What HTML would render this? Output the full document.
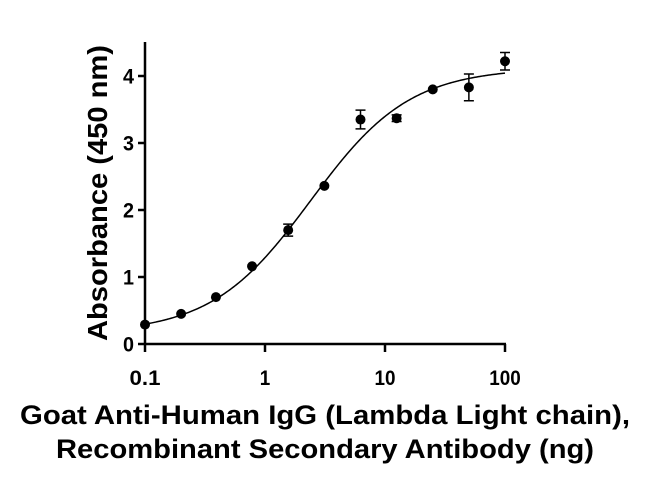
<!DOCTYPE html>
<html><head><style>
html,body{margin:0;padding:0;background:#fff;}
svg text{font-family:"Liberation Sans",sans-serif;font-weight:bold;fill:#000;}
</style></head><body>
<svg id="chart" width="650" height="488" viewBox="0 0 650 488" xmlns="http://www.w3.org/2000/svg"></svg>
<script>
const xValues=[0.1,0.2,0.39,0.78,1.56,3.125,6.25,12.5,25,50,100];
const yValues=[0.29,0.45,0.70,1.16,1.70,2.36,3.35,3.37,3.80,3.83,4.22];
const yErrors=[0,0,0,0,0.09,0,0.14,0.05,0,0.2,0.13];
const xTicks=[0.1,1,10,100];
const xTickLabels=["0.1","1","10","100"];
const yTicks=[0,1,2,3,4];
const fitParams=[0.16,4.12,2.4,1.05]; // bottom, top, EC50, hill

const svg=document.getElementById('chart');
const NS='http://www.w3.org/2000/svg';
const X0=145,DEC=120,Y0=344,PU=67;
const xs=v=>X0+Math.log10(v/0.1)*DEC;
const ys=v=>Y0-v*PU;
function mk(t,a,p){const e=document.createElementNS(NS,t);for(const k in a)e.setAttribute(k,a[k]);(p||svg).appendChild(e);return e;}

let ax=mk('line',{x1:X0,y1:42,x2:X0,y2:Y0+1,stroke:'#000','stroke-width':2.5});


ax=mk('line',{x1:X0-1,y1:Y0,x2:xs(100)+1,y2:Y0,stroke:'#000','stroke-width':2.5});



yTicks.forEach(t=>{
  const l=mk('line',{x1:X0-7,y1:ys(t),x2:X0,y2:ys(t),stroke:'#000','stroke-width':2.5});
  
  
  const tx=mk('text',{x:X0-11,y:ys(t)+7.5,'text-anchor':'end','font-size':21,textLength:11,lengthAdjust:'spacingAndGlyphs'});
  tx.textContent=t;
  
  
});
xTicks.forEach((t,i)=>{
  const l=mk('line',{x1:xs(t),y1:Y0,x2:xs(t),y2:Y0+8,stroke:'#000','stroke-width':2.5});
  
  
  const lbl=xTickLabels[i];
  const w=lbl==='0.1'?31:lbl.length*10.5;
  const tx=mk('text',{x:xs(t),y:Y0+41,'text-anchor':'middle','font-size':21,textLength:w,lengthAdjust:'spacingAndGlyphs'});
  tx.textContent=lbl;
  
  
});

const [b,tp,ec,h]=fitParams;
let d='';
for(let i=0;i<=300;i++){
  const lx=-1+3*i/300, v=Math.pow(10,lx);
  const y=b+(tp-b)/(1+Math.pow(ec/v,h));
  d+=(i?'L':'M')+xs(v).toFixed(2)+','+ys(y).toFixed(2);
}
const c=mk('path',{d:d,fill:'none',stroke:'#000','stroke-width':1.5});



xValues.forEach((x,i)=>{
  const cx=xs(x),cy=ys(yValues[i]),e=yErrors[i];
  if(e>0){
    const g=mk('path',{d:`M${cx},${ys(yValues[i]+e)}V${ys(yValues[i]-e)}M${cx-5},${ys(yValues[i]+e)}H${cx+5}M${cx-5},${ys(yValues[i]-e)}H${cx+5}`,stroke:'#000','stroke-width':1.5,fill:'none'});
    
    
  }
  const p=mk('circle',{cx:cx,cy:cy,r:5,fill:'#000'});
  
  
});

let t=mk('text',{x:0,y:0,'font-size':28,'text-anchor':'middle',textLength:296,lengthAdjust:'spacingAndGlyphs',transform:'translate(107,193) rotate(-90)'});
t.textContent='Absorbance (450 nm)';


t=mk('text',{x:325,y:424,'font-size':27,'text-anchor':'middle',textLength:610,lengthAdjust:'spacingAndGlyphs'});
t.textContent='Goat Anti-Human IgG (Lambda Light chain),';


t=mk('text',{x:325,y:458,'font-size':27,'text-anchor':'middle',textLength:538,lengthAdjust:'spacingAndGlyphs'});
t.textContent='Recombinant Secondary Antibody (ng)';


</script>
</body></html>
